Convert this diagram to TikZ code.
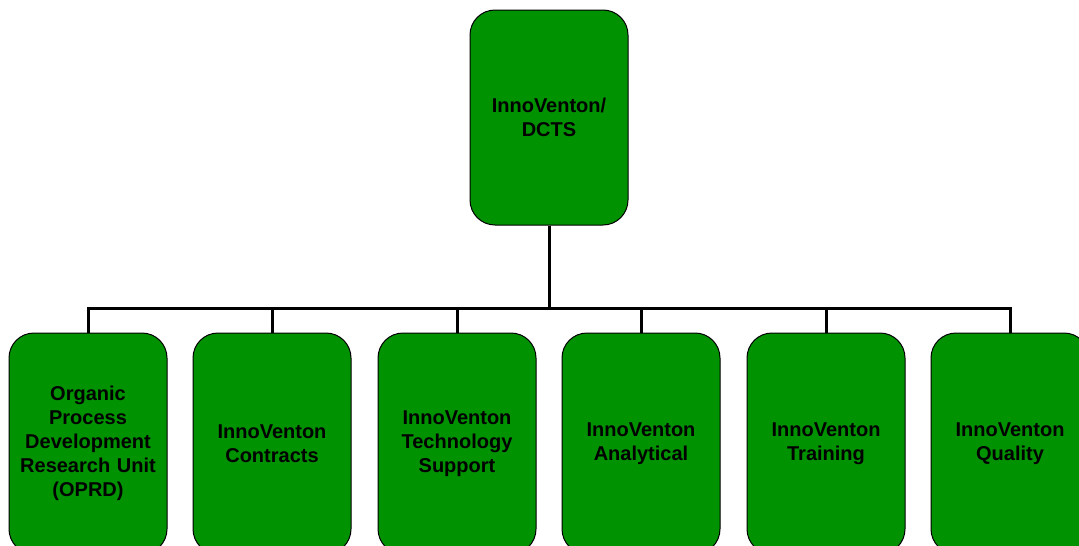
\documentclass[tikz,border=0pt]{standalone}
\usepackage{fontspec}
\setmainfont{Liberation Sans}
\definecolor{orggreen}{RGB}{0,146,0}
\begin{document}
\begin{tikzpicture}[x=1pt,y=-1pt,
  unit/.style={draw=black, line width=1pt, fill=orggreen, rounded corners=25pt,
    minimum width=158pt, minimum height=215pt, text width=150pt, align=center,
    inner sep=0pt, font=\bfseries\fontsize{20}{24}\selectfont},
  link/.style={line width=3pt}]
  \useasboundingbox (0,0) rectangle (1079,546);
  \clip (0,0) rectangle (1079,546);
  % Head
  \node[unit] (top) at (549,117.5) {InnoVenton/\\DCTS};
  \coordinate (bus) at (549,308);
  % Units
  \foreach \i/\xpos/\name in
    {1/88/{Organic\\Process\\Development\\Research Unit\\(OPRD)},
     2/272/{InnoVenton\\Contracts},
     3/457/{InnoVenton\\Technology\\Support},
     4/641/{InnoVenton\\Analytical},
     5/826/{InnoVenton\\Training},
     6/1010/{InnoVenton\\Quality}}
    \node[unit, minimum height=221pt] (b\i) at (\xpos,443.5) {\name};
  % Links
  \foreach \i in {1,...,6}
    \draw[link] (top.south) -- (bus) -| (b\i.north);
\end{tikzpicture}
\end{document}
